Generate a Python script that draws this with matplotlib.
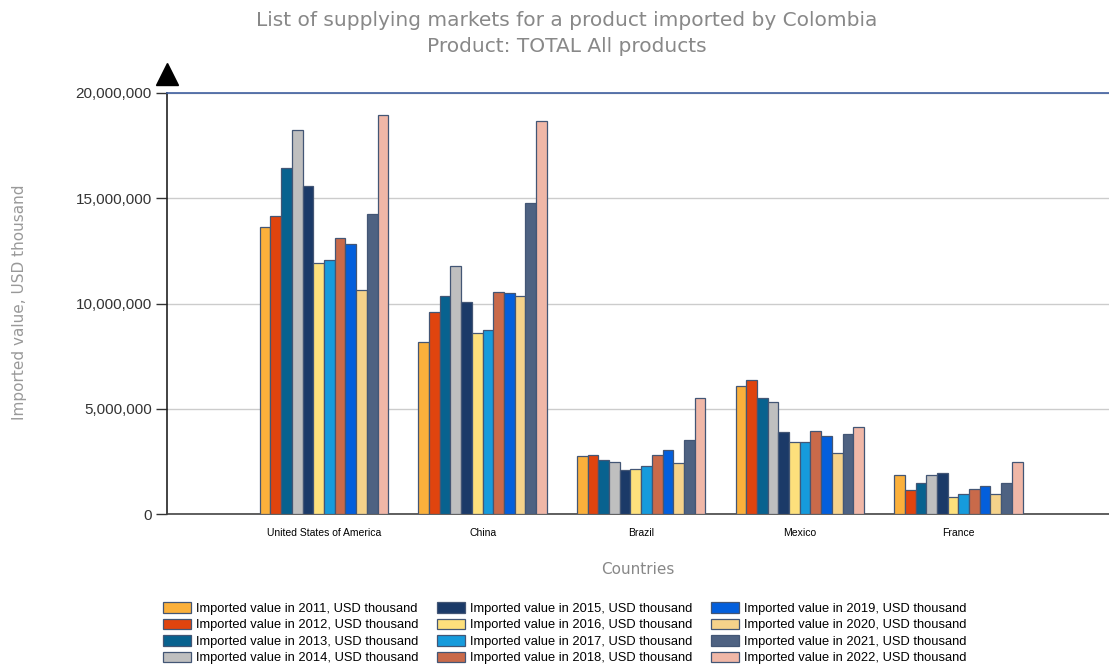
import matplotlib.pyplot as plt
import numpy as np
from matplotlib.ticker import FuncFormatter

countries = ["United States of America", "China", "Brazil", "Mexico", "France"]
years = list(range(2011, 2023))

# imported value by year, USD thousand (one list per country, 2011..2022)
usa = [13650000, 14150000, 16430000, 18220000, 15570000, 11940000, 12070000, 13100000, 12820000, 10660000, 14230000, 18950000]
china = [8160000, 9590000, 10380000, 11800000, 10060000, 8620000, 8760000, 10540000, 10500000, 10380000, 14780000, 18660000]
brazil = [2740000, 2800000, 2580000, 2470000, 2090000, 2140000, 2300000, 2800000, 3030000, 2410000, 3500000, 5500000]
mexico = [6070000, 6350000, 5530000, 5310000, 3880000, 3410000, 3440000, 3940000, 3720000, 2900000, 3820000, 4150000]
france = [1840000, 1160000, 1470000, 1850000, 1930000, 820000, 960000, 1170000, 1350000, 940000, 1490000, 2470000]

colors = ["#fbb03b", "#e0440e", "#08628f", "#bfbfbf", "#1b3a68", "#fde07c",
          "#169bdc", "#c96a4a", "#035fdc", "#f5d28a", "#4e6282", "#f0b7a7"]

values = np.array([usa, china, brazil, mexico, france])

fig = plt.figure(figsize=(11.09, 6.68), dpi=100)
ax = fig.add_axes([0.1506, 0.2305, 0.8494, 0.6303])

x = np.arange(len(countries))
w = 0.0675
for i, yr in enumerate(years):
    ax.bar(x + (i - 5.5) * w, values[:, i], width=w, color=colors[i],
           edgecolor="#435675", linewidth=0.9,
           label=f"Imported value in {yr}, USD thousand", zorder=3)

ax.set_xlim(-0.99, 4.95)
ax.set_ylim(0, 20000000)
ax.set_yticks([0, 5000000, 10000000, 15000000, 20000000])
ax.yaxis.set_major_formatter(FuncFormatter(lambda v, p: f"{int(v):,}"))
ax.set_xticks(x)
ax.set_xticklabels(countries, fontsize=7.5, family="Liberation Sans")
ax.tick_params(axis="x", length=0, pad=10)
ax.tick_params(axis="y", length=8, width=1, labelsize=11, colors="#333333", pad=3)
for lab in ax.get_yticklabels():
    lab.set_family("Liberation Sans")

ax.grid(axis="y", color="#cccccc", linewidth=1, zorder=0)
ax.axhline(20000000, color="#3f5f9f", linewidth=1.2, zorder=4, clip_on=False)
for s in ["top", "right"]:
    ax.spines[s].set_visible(False)
ax.spines["left"].set_color("#222222")
ax.spines["bottom"].set_color("#444444")
ax.spines["left"].set_linewidth(1.2)
ax.spines["bottom"].set_linewidth(1.2)

# arrow head on the value axis
ax.plot([0], [1.045], marker="^", markersize=16, color="black",
        transform=ax.transAxes, clip_on=False, zorder=5)

ax.set_xlabel("Countries", fontsize=11, color="#888888", labelpad=17)
fig.text(0.018, 0.548, "Imported value, USD thousand", rotation=90,
         ha="center", va="center", fontsize=11, color="#999999")

fig.text(0.511, 0.97, "List of supplying markets for a product imported by Colombia",
         ha="center", va="center", fontsize=14.5, color="#888888")
fig.text(0.511, 0.931, "Product: TOTAL All products",
         ha="center", va="center", fontsize=14.5, color="#888888")

fig.legend(loc="upper center", bbox_to_anchor=(0.509, 0.108), ncol=3, frameon=False,
           prop={"family": "Liberation Sans", "size": 9.3}, handlelength=2.15,
           handleheight=0.85, labelspacing=0.3, columnspacing=1.45, handletextpad=0.4,
           borderpad=0)

plt.savefig("out.png")
